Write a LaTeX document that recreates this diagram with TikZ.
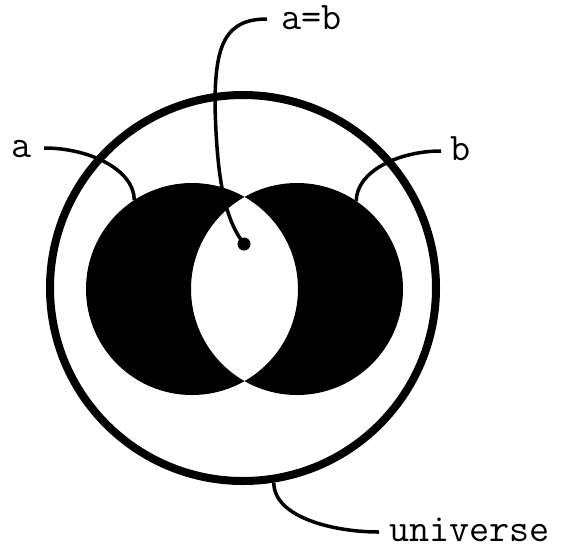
\documentclass[tikz,border=0pt]{standalone}
\usepackage{fontspec}
\begin{document}
\begin{tikzpicture}[x=1pt,y=-1pt,
  lbl/.style={font=\ttfamily\fontsize{39}{44}\selectfont, inner sep=0pt, outer sep=0pt, anchor=base west},
  leader/.style={line width=3.5pt},
  setc/.style={circle, minimum size=212pt, inner sep=0pt, outer sep=0pt},
  univ/.style={circle, draw, line width=8pt, minimum size=386pt, inner sep=0pt},
  dotn/.style={circle, fill, minimum size=13pt, inner sep=0pt}]
\useasboundingbox (0,0) rectangle (561,550);
% shaded crescents (symmetric difference of a and b)
\fill[even odd rule] (192,289) circle[radius=106pt] (297,289) circle[radius=106pt];
\node[setc] (A) at (192,289) {};
\node[setc] (B) at (297,289) {};
\node[univ] (U) at (243,288) {};
\node[dotn] (dot) at (244,244) {};
% labels
\node[lbl] (la) at (12,157) {a};
\node[lbl] (lb) at (450,160) {b};
\node[lbl] (lab) at (281,29) {a=b};
\node[lbl] (lu) at (389,541) {universe};
\coordinate (m) at (215,105);
% leaders
\draw[leader] ([shift={(12pt,9pt)}]la.base east) .. controls +(46pt,0pt) and +(0pt,30pt) .. (A.123.5);
\draw[leader] ([shift={(-9pt,9pt)}]lb.base west) .. controls +(-42pt,0pt) and +(0pt,30pt) .. (B.56.9);
\draw[leader] ([shift={(-14pt,10pt)}]lab.base west) .. controls +(-42pt,0pt) and +(0pt,60pt) .. (m)
  .. controls +(2pt,-80pt) and +(-18pt,24pt) .. (dot.center);
\draw[leader] (U.-81.5) .. controls +(0pt,-35pt) and +(-45pt,0pt) .. ([shift={(-10pt,9pt)}]lu.base west);
\end{tikzpicture}
\end{document}
